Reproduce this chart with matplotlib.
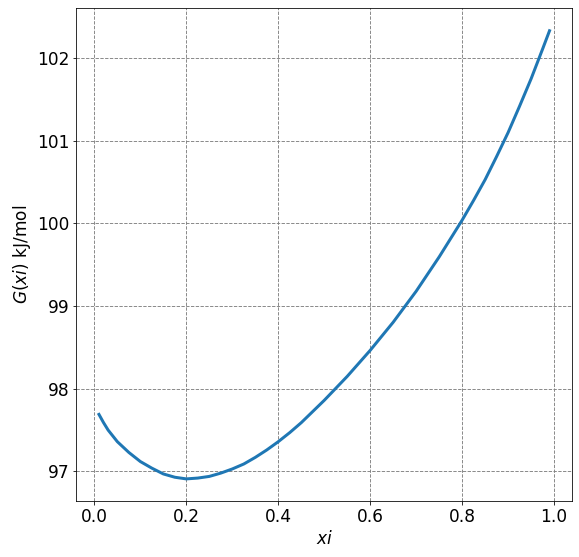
import matplotlib

matplotlib.use("Agg")
import matplotlib.pyplot as plt

# values
xi = [0.01, 0.02, 0.03, 0.05, 0.075, 0.1, 0.125, 0.15, 0.175, 0.2, 0.225, 0.25,
      0.275, 0.3, 0.325, 0.35, 0.375, 0.4, 0.425, 0.45, 0.5, 0.55, 0.6, 0.65, 0.7,
      0.75, 0.8, 0.825, 0.85, 0.875, 0.9, 0.925, 0.95, 0.975, 0.99]
g_xi = [97.69, 97.59, 97.50, 97.36, 97.23, 97.12, 97.04, 96.97, 96.93, 96.91,
        96.92, 96.94, 96.98, 97.03, 97.09, 97.17, 97.26, 97.36, 97.47, 97.59, 97.86,
        98.15, 98.465, 98.805, 99.18, 99.595, 100.04, 100.28, 100.53, 100.81, 101.10,
        101.42, 101.75, 102.11, 102.33]

DPI = 72
fig = plt.figure(figsize=(579 / DPI, 557 / DPI), dpi=DPI)
ax = fig.add_axes([0.132, 0.100, 0.856, 0.885])

ax.plot(xi, g_xi, color="#1f77b4", linewidth=3)
ax.grid(True, linestyle="--", color="gray", linewidth=0.9)
ax.set_xlabel("$xi$", fontsize=17)
ax.set_ylabel("$G(xi)$ kJ/mol", fontsize=17)
ax.tick_params(labelsize=17)

fig.savefig("out.png", dpi=DPI)
